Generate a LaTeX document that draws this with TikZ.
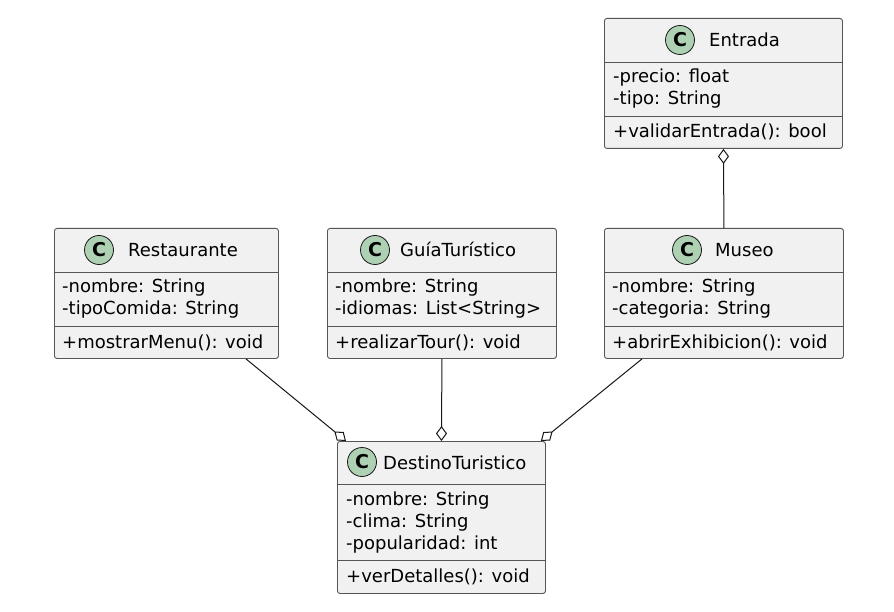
\documentclass[tikz,border=0pt]{standalone}
\usepackage{fontspec}
\setmainfont{DejaVu Sans}
\usetikzlibrary{arrows.meta,calc}
\definecolor{boxfill}{HTML}{F1F1F1}
\definecolor{boxline}{HTML}{555555}
\definecolor{circfill}{HTML}{ADD1B2}
\definecolor{linecol}{HTML}{181818}
\tikzset{
  umlbox/.style={draw=boxline, fill=boxfill, line width=0.9pt, rounded corners=2.5pt, anchor=north west, inner sep=0pt},
  sepline/.style={draw=boxline, line width=0.9pt},
  ccirc/.style={circle, draw=linecol, fill=circfill, line width=0.8pt, minimum size=29pt, inner sep=0pt, font=\fontsize{19}{19}\selectfont\bfseries},
  cname/.style={anchor=base west, inner sep=0pt, font=\fontsize{18}{22}\selectfont},
  member/.style={anchor=base west, inner sep=0pt, font=\fontsize{18}{22}\selectfont},
  aggr/.style={draw=linecol, line width=1pt, -{Diamond[length=15pt,width=11pt,fill=white,line width=1pt]}}
}
\begin{document}
\begin{tikzpicture}[x=1pt,y=-1pt]
\useasboundingbox (0,0) rectangle (894,612);
\fill[white] (0,0) rectangle (894,612);

% Entrada
\node[umlbox, minimum width=238pt, minimum height=130pt] (entrada) at (604,18) {};
\node[ccirc] (entradaC) at (680,40) {C};
\node[cname] (entradaN) at (709,47) {Entrada};
\draw[sepline] (entrada.west |- 0,62) -- (entrada.east |- 0,62);
\draw[sepline] (entrada.west |- 0,116) -- (entrada.east |- 0,116);
\node[member] (entradaA1) at (613,83) {-precio: float};
\node[member] (entradaA2) at (613,105) {-tipo: String};
\node[member] (entradaM1) at (613,138) {+validarEntrada(): bool};

% Restaurante
\node[umlbox, minimum width=224pt, minimum height=130pt] (rest) at (54,228) {};
\node[ccirc] (restC) at (99,250) {C};
\node[cname] (restN) at (128,257) {Restaurante};
\draw[sepline] (rest.west |- 0,272) -- (rest.east |- 0,272);
\draw[sepline] (rest.west |- 0,326) -- (rest.east |- 0,326);
\node[member] (restA1) at (62,293) {-nombre: String};
\node[member] (restA2) at (62,315) {-tipoComida: String};
\node[member] (restM1) at (62,348) {+mostrarMenu(): void};

% GuiaTuristico
\node[umlbox, minimum width=229pt, minimum height=130pt] (guia) at (327,228) {};
\node[ccirc] (guiaC) at (375,250) {C};
\node[cname] (guiaN) at (400,257) {GuíaTurístico};
\draw[sepline] (guia.west |- 0,272) -- (guia.east |- 0,272);
\draw[sepline] (guia.west |- 0,326) -- (guia.east |- 0,326);
\node[member] (guiaA1) at (335,293) {-nombre: String};
\node[member] (guiaA2) at (335,315) {-idiomas: List<String>};
\node[member] (guiaM1) at (335,348) {+realizarTour(): void};

% Museo
\node[umlbox, minimum width=239pt, minimum height=130pt] (museo) at (604,228) {};
\node[ccirc] (museoC) at (687,250) {C};
\node[cname] (museoN) at (715,257) {Museo};
\draw[sepline] (museo.west |- 0,272) -- (museo.east |- 0,272);
\draw[sepline] (museo.west |- 0,326) -- (museo.east |- 0,326);
\node[member] (museoA1) at (612,293) {-nombre: String};
\node[member] (museoA2) at (612,315) {-categoria: String};
\node[member] (museoM1) at (612,348) {+abrirExhibicion(): void};

% DestinoTuristico
\node[umlbox, minimum width=208pt, minimum height=152pt] (dt) at (337,441) {};
\node[ccirc] (dtC) at (362,462) {C};
\node[cname] (dtN) at (383,469) {DestinoTuristico};
\draw[sepline] (dt.west |- 0,484) -- (dt.east |- 0,484);
\draw[sepline] (dt.west |- 0,560) -- (dt.east |- 0,560);
\node[member] (dtA1) at (346,505) {-nombre: String};
\node[member] (dtA2) at (346,527) {-clima: String};
\node[member] (dtA3) at (346,549) {-popularidad: int};
\node[member] (dtM1) at (346,582) {+verDetalles(): void};

% connectors
\draw[aggr] (museo.north) -- (entrada.south);
\draw[aggr] (guia.south) -- (dt.north);
\draw[aggr] ($(rest.south west)+(192,0)$) -- ($(dt.north west)+(9,0)$);
\draw[aggr] ($(museo.south west)+(38,0)$) -- ($(dt.north east)+(-5,0)$);
\end{tikzpicture}
\end{document}
